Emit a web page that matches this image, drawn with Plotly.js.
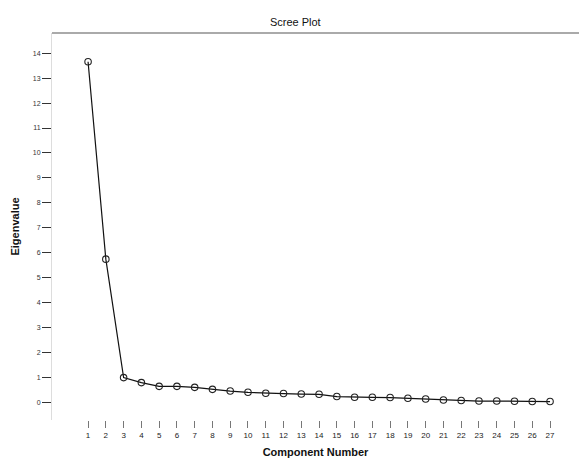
<!DOCTYPE html>
<html>
<head>
<meta charset="utf-8">
<script src="https://cdn.plot.ly/plotly-3.0.1.min.js"></script>
<style>html,body{margin:0;padding:0;background:#fff;}#chart{width:579px;height:462px;}</style>
</head>
<body>
<div id="chart"></div>
<script>
const componentNumbers = [1,2,3,4,5,6,7,8,9,10,11,12,13,14,15,16,17,18,19,20,21,22,23,24,25,26,27];
const eigenvalues = [13.66,5.74,0.99,0.79,0.64,0.64,0.60,0.52,0.45,0.40,0.36,0.35,0.33,0.32,0.23,0.20,0.20,0.19,0.16,0.13,0.09,0.07,0.05,0.05,0.04,0.03,0.03];
const yTickValues = [0,1,2,3,4,5,6,7,8,9,10,11,12,13,14];
const chartTitle = "Scree Plot";
const xTitle = "Component Number";
const yTitle = "Eigenvalue";

const trace = {
  x: componentNumbers,
  y: eigenvalues,
  type: 'scatter',
  mode: 'lines+markers',
  line: {color: '#111', width: 1.2},
  marker: {symbol: 'circle-open', size: 6.5, color: '#222', line: {width: 1.1, color: '#222'}},
  hoverinfo: 'x+y'
};

const layout = {
  width: 579, height: 462,
  margin: {l: 52, r: 0, t: 33, b: 42, pad: 0},
  paper_bgcolor: '#fff', plot_bgcolor: '#fff',
  font: {family: 'Liberation Sans, Arial, sans-serif', color: '#111', size: 8},
  title: {text: chartTitle, x: 0.51, xref: 'container', xanchor: 'center', y: 0.952, yanchor: 'middle',
          font: {size: 11, color: '#111'}},
  showlegend: false,
  xaxis: {
    range: [-1.03, 28.63], tickmode: 'array', tickvals: componentNumbers,
    ticktext: componentNumbers.map(String),
    showgrid: false, zeroline: false, showline: false,
    ticks: 'outside', ticklen: 7, tickcolor: '#777', tickwidth: 1,
    tickfont: {size: 8, color: '#222'},
    title: {text: xTitle, font: {size: 11, color: '#111', weight: 'bold'}, standoff: 9}
  },
  yaxis: {
    range: [-0.71, 14.81], tickmode: 'array', tickvals: yTickValues,
    showgrid: false, zeroline: false, showline: true, linecolor: '#ddd', linewidth: 1,
    ticks: 'outside', ticklen: 9, tickcolor: '#333', tickwidth: 1,
    tickfont: {size: 7, color: '#333'},
    title: {text: yTitle, font: {size: 11, color: '#111', weight: 'bold'}, standoff: 10}
  },
  shapes: [{type: 'line', xref: 'paper', yref: 'paper', x0: 0, x1: 1, y0: 1, y1: 1,
            line: {color: '#aaa', width: 2}}]
};

Plotly.newPlot('chart', [trace], layout, {displayModeBar: false, staticPlot: true});
</script>
</body>
</html>
